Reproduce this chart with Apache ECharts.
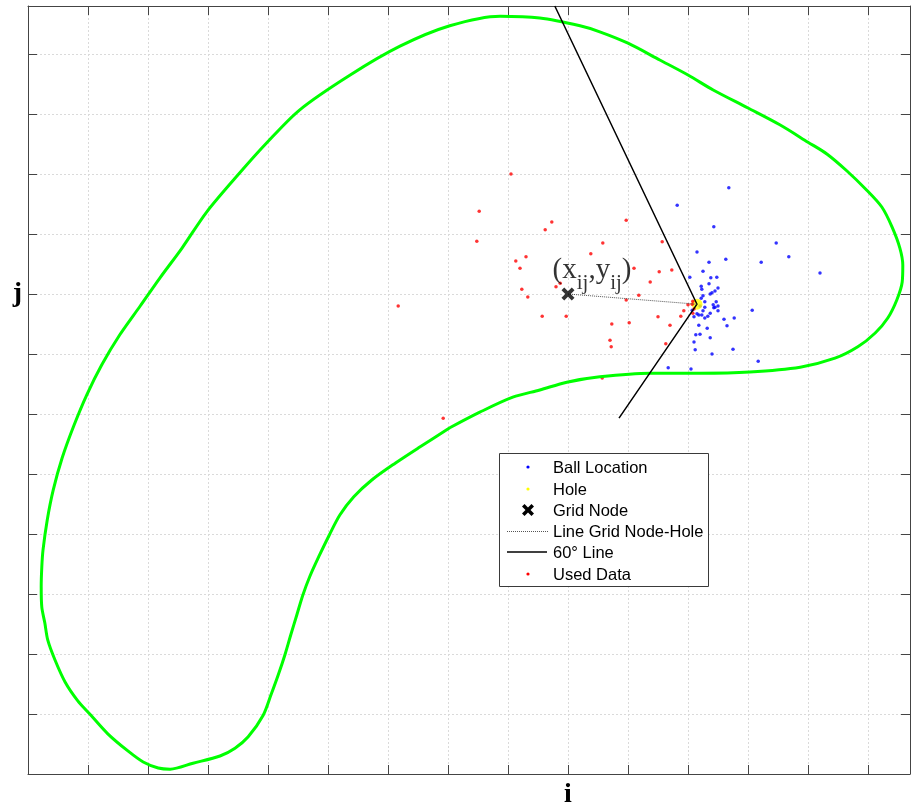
<!DOCTYPE html>
<html>
<head>
<meta charset="utf-8">
<script src="https://cdn.jsdelivr.net/npm/echarts@6/dist/echarts.min.js"></script>
<style>
html,body{margin:0;padding:0;background:#fff;}
#chart{width:911px;height:803px;}
</style>
</head>
<body>
<div id="chart"></div>
<script>
// ---- data (grid units: one grid cell = 10) ----
const ballLocation = [
  [116.8,97.7],[108.2,94.8],[114.3,91.2],[124.7,88.5],[126.8,86.2],[132.0,83.5],
  [111.5,87.0],[113.5,85.3],[116.3,85.8],[122.2,85.3],[112.5,83.8],[110.3,82.8],
  [113.8,82.7],[114.8,82.8],[112.2,81.3],[112.3,80.8],[113.5,81.7],[115.0,81.0],
  [113.7,80.0],[114.0,80.2],[114.5,80.5],[112.2,79.3],[112.8,78.7],[114.7,78.7],
  [114.2,78.2],[114.5,77.8],[115.0,78.0],[114.3,77.7],[112.5,77.2],[112.8,77.8],
  [115.0,77.2],[120.7,77.3],[116.0,75.8],[117.7,76.0],[113.7,76.8],[113.3,76.3],
  [112.3,76.5],[112.8,76.0],[111.8,76.5],[111.5,76.7],[111.0,76.2],[116.5,74.7],
  [111.8,74.8],[113.2,74.3],[113.7,72.7],[111.3,73.2],[112.0,73.3],[111.0,72.0],
  [111.2,70.7],[117.5,70.8],[114.0,70.0],[121.7,68.8],[106.7,67.7],[110.5,67.5],
  [112.5,79.7],[112.0,78.0],[110.7,77.3]
];
const hole = [111.5, 78.3];
const gridNode = [90, 80];
const usedData = [
  [80.5,100.0],[75.2,93.8],[87.3,92.0],[86.2,90.7],[74.8,88.8],[81.3,85.5],
  [83.0,86.2],[82.0,84.3],[82.3,80.8],[83.3,79.5],[88.7,81.8],[88.0,81.2],
  [61.7,78.0],[85.7,76.3],[89.7,76.3],[69.2,59.3],[95.7,66.0],[99.7,92.3],
  [95.8,88.5],[93.8,86.7],[105.7,88.7],[101.0,84.3],[105.2,83.7],[107.3,84.0],
  [103.7,82.0],[101.8,79.8],[99.7,79.0],[97.3,75.0],[100.2,75.2],[97.0,72.3],
  [97.2,71.2],[105.0,76.2],[107.0,74.8],[106.3,71.7],[108.8,76.3],[109.3,77.2],
  [110.0,78.2],[110.7,78.3],[110.8,78.8],[111.0,77.5],[110.8,76.8]
];
const boundary = [
  [70.3,57.7],[65.3,54.5],[61.2,51.8],[57.3,49.0],[54.3,46.2],[52.0,43.2],[50.2,39.8],
  [48.5,36.3],[47.0,33.0],[45.8,29.8],[44.8,26.5],[43.8,23.2],[42.8,19.8],[41.7,16.5],
  [40.5,13.2],[39.2,9.8],[36.7,6.2],[34.5,4.3],[32.0,3.0],[27.5,1.8],[23.7,0.8],[21.7,1.0],[19.2,2.0],
  [16.7,3.8],[13.3,6.7],[10.3,10.0],[8.3,12.2],[6.2,15.3],[4.5,19.0],[3.3,22.3],
  [2.8,25.2],[2.3,27.8],[2.2,31.2],[2.3,34.5],[2.5,37.3],[3.2,42.3],[4.2,47.3],
  [5.7,52.7],[7.7,58.2],[9.8,63.2],[12.3,68.2],[15.3,73.2],[18.7,78.0],[22.0,82.7],
  [25.7,87.7],[29.8,93.7],[35.3,100.2],[39.8,105.2],[45.3,110.7],[53.7,116.5],
  [62.0,121.3],[70.3,124.7],[78.7,126.3],[85.3,126.0],[92.0,124.7],[95.3,123.7],
  [100.0,121.8],[105.3,119.0],[110.0,116.5],[114.2,114.0],[120.0,111.0],[125.3,108.2],
  [130.0,105.3],[133.2,103.3],[136.5,100.5],[139.8,97.3],[142.3,94.5],[144.0,91.2],
  [145.3,87.7],[145.8,84.8],[145.7,82.0],[144.8,79.0],[143.3,76.0],[141.2,73.5],
  [138.3,71.2],[134.5,69.3],[128.7,67.8],[120.3,67.0],[112.0,66.8],[103.7,66.8],
  [95.3,66.2],[89.8,65.3],[85.3,64.0],[80.8,62.8],[75.3,60.3],[70.3,57.7]
];
const sixtyLine = [[87.8,128.0],[111.5,78.3],[98.5,59.3]];
const legendNames = ['Ball Location','Hole','Grid Node','Line Grid Node-Hole','60\u00B0 Line','Used Data'];
const xTickLabels = [[90,'i']];
const yTickLabels = [[80,'j']];
const xMax = 147, yMax = 128, tickStep = 10;

// ---- chart ----
const chart = echarts.init(document.getElementById('chart'), null, {renderer:'canvas'});
const axisColor = '#444';
const gridLine = {show:true, lineStyle:{color:'#dadada', type:[2,2], width:1}};
function lbl(list){ return function(v){ for (const p of list) if (Math.abs(p[0]-v)<1e-6) return p[1]; return ''; }; }
const axisFont = {fontFamily:'Liberation Serif', fontWeight:'bold', fontSize:28, color:'#000'};

const xShape = [[2.1,0],[5,2.9],[7.9,0],[10,2.1],[7.1,5],[10,7.9],[7.9,10],[5,7.1],[2.1,10],[0,7.9],[2.9,5],[0,2.1]];
const xPath = 'path://M' + xShape.map(p=>p[0]+','+p[1]).join(' L') + ' Z';

const option = {
  animation:false,
  backgroundColor:'#fff',
  grid:{left:28, top:6, right:1, bottom:29, containLabel:false, outerBoundsMode:'none'},
  xAxis:[
    {type:'value', min:0, max:xMax, interval:tickStep, position:'bottom',
     axisLine:{show:true, onZero:false, lineStyle:{color:axisColor}},
     axisTick:{show:true, inside:true, length:9, lineStyle:{color:axisColor}},
     axisLabel:Object.assign({show:true, margin:7, formatter:lbl(xTickLabels), showMinLabel:true, showMaxLabel:true}, axisFont),
     splitLine:gridLine},
    {type:'value', min:0, max:xMax, interval:tickStep, position:'top',
     axisLine:{show:true, onZero:false, lineStyle:{color:axisColor}},
     axisTick:{show:true, inside:true, length:9, lineStyle:{color:axisColor}},
     axisLabel:{show:false}, splitLine:{show:false}}
  ],
  yAxis:[
    {type:'value', min:0, max:yMax, interval:tickStep, position:'left',
     axisLine:{show:true, onZero:false, lineStyle:{color:axisColor}},
     axisTick:{show:true, inside:true, length:9, lineStyle:{color:axisColor}},
     axisLabel:Object.assign({show:true, margin:6, padding:[10,0,0,0], formatter:lbl(yTickLabels)}, axisFont),
     splitLine:gridLine},
    {type:'value', min:0, max:yMax, interval:tickStep, position:'right',
     axisLine:{show:true, onZero:false, lineStyle:{color:axisColor}},
     axisTick:{show:true, inside:true, length:9, lineStyle:{color:axisColor}},
     axisLabel:{show:false}, splitLine:{show:false}}
  ],
  series:[
    {name:legendNames[0], type:'scatter', data:ballLocation, symbol:'circle', symbolSize:3.5,
     itemStyle:{color:'#0000ff'}, z:2},
    {name:legendNames[1], type:'scatter', data:[hole], symbol:'circle', symbolSize:11,
     itemStyle:{color:'#ffff00'}, z:3},
    {name:legendNames[5], type:'scatter', data:usedData, symbol:'circle', symbolSize:3.5,
     itemStyle:{color:'#ff0000'}, z:4},
    {name:'boundary', type:'line', data:boundary, symbol:'none', smooth:0.3,
     lineStyle:{color:'#00ff00', width:3}, z:5},
    {name:legendNames[4], type:'line', data:sixtyLine, symbol:'none',
     lineStyle:{color:'#000', width:1.5}, z:6},
    {name:legendNames[3], type:'line', data:[gridNode, hole], symbol:'none',
     lineStyle:{color:'#555', width:1, type:[1,1]}, z:6},
    {name:legendNames[2], type:'scatter', data:[gridNode], symbol:xPath, symbolSize:13,
     itemStyle:{color:'#000'}, z:7,
     label:{show:true, position:'top', offset:[24,3], color:'#000',
       formatter:'{p|(x}{s|ij}{p|,y}{s|ij}{p|)}',
       rich:{
         p:{fontFamily:'Liberation Serif', fontSize:29, lineHeight:30, verticalAlign:'top', color:'#000'},
         s:{fontFamily:'Liberation Serif', fontSize:21, lineHeight:30, verticalAlign:'top', padding:[17,0,0,0], color:'#000'}
       }}}
  ],
  graphic:[]
};

// legend drawn as graphic group
const Z = 100;
const rowY = [14,36,57,78,99,121];
const children = [{type:'rect', z:Z, shape:{x:0.5,y:0.5,width:209,height:133}, style:{fill:'#fff', stroke:'#3a3a3a', lineWidth:1}}];
legendNames.forEach((name,i)=>{
  const y = rowY[i];
  if (i===0 || i===1 || i===5) {
    const c = ['#0000ff','#ffff00',null,null,null,'#ff0000'][i];
    children.push({type:'circle', z:Z+1, shape:{cx:29, cy:y, r:1.6}, style:{fill:c}});
  } else if (i===2) {
    children.push({type:'polygon', z:Z+1, shape:{points:xShape.map(p=>[23+p[0]*1.2, y-6+p[1]*1.2])}, style:{fill:'#000'}});
  } else if (i===3) {
    children.push({type:'line', z:Z+1, shape:{x1:8,y1:y+0.5,x2:49,y2:y+0.5}, style:{stroke:'#555', lineWidth:1, lineDash:[1,1]}});
  } else if (i===4) {
    children.push({type:'line', z:Z+1, shape:{x1:8,y1:y,x2:48,y2:y}, style:{stroke:'#000', lineWidth:1.5}});
  }
  children.push({type:'text', z:Z+1, x:54, y:y+1.5, style:{text:name, fontFamily:'Liberation Sans', fontSize:16.5, fill:'#000', verticalAlign:'middle'}});
});
option.graphic.push({type:'group', x:499, y:453, z:Z, children:children});

chart.setOption(option);
</script>
</body>
</html>
